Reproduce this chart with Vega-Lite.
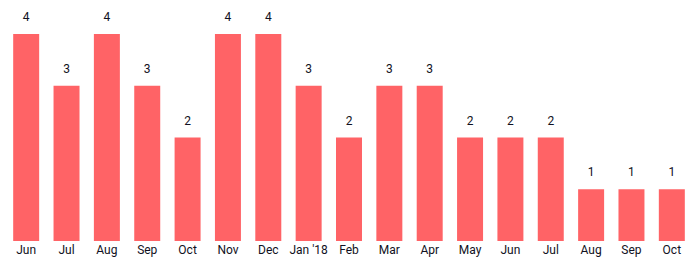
{
  "$schema": "https://vega.github.io/schema/vega-lite/v6.json",
  "width": 686,
  "height": 207,
  "autosize": {"type": "none"},
  "padding": {"left": 6, "top": 34, "right": 5, "bottom": 23},
  "background": "white",
  "config": {"view": {"stroke": null}, "font": "Roboto"},
  "data": {"values": [
    {"date": "2017-06-01", "count": 4},
    {"date": "2017-07-01", "count": 3},
    {"date": "2017-08-01", "count": 4},
    {"date": "2017-09-01", "count": 3},
    {"date": "2017-10-01", "count": 2},
    {"date": "2017-11-01", "count": 4},
    {"date": "2017-12-01", "count": 4},
    {"date": "2018-01-01", "count": 3},
    {"date": "2018-02-01", "count": 2},
    {"date": "2018-03-01", "count": 3},
    {"date": "2018-04-01", "count": 3},
    {"date": "2018-05-01", "count": 2},
    {"date": "2018-06-01", "count": 2},
    {"date": "2018-07-01", "count": 2},
    {"date": "2018-08-01", "count": 1},
    {"date": "2018-09-01", "count": 1},
    {"date": "2018-10-01", "count": 1}
  ]},
  "encoding": {
    "x": {
      "field": "date", "type": "ordinal", "sort": null,
      "scale": {"paddingInner": 0.356, "paddingOuter": 0.178},
      "axis": {
        "title": null, "domain": false, "ticks": false, "labelAngle": 0,
        "labelPadding": 3, "labelFontSize": 12, "labelColor": "#111122", "labelFont": "Roboto",
        "labelExpr": "utcmonth(toDate(datum.value)) == 0 ? utcFormat(toDate(datum.value), \"%b '%y\") : utcFormat(toDate(datum.value), '%b')"
      }
    },
    "y": {
      "field": "count", "type": "quantitative",
      "scale": {"domain": [0, 4], "nice": false},
      "axis": null
    }
  },
  "layer": [
    {"mark": {"type": "bar", "color": "#FF6366"}},
    {"mark": {"type": "text", "dy": -10, "baseline": "bottom", "fontSize": 12, "color": "#111122", "font": "Roboto"},
     "encoding": {"text": {"field": "count", "type": "quantitative"}, "y": {"field": "count", "type": "quantitative"}}}
  ]
}
